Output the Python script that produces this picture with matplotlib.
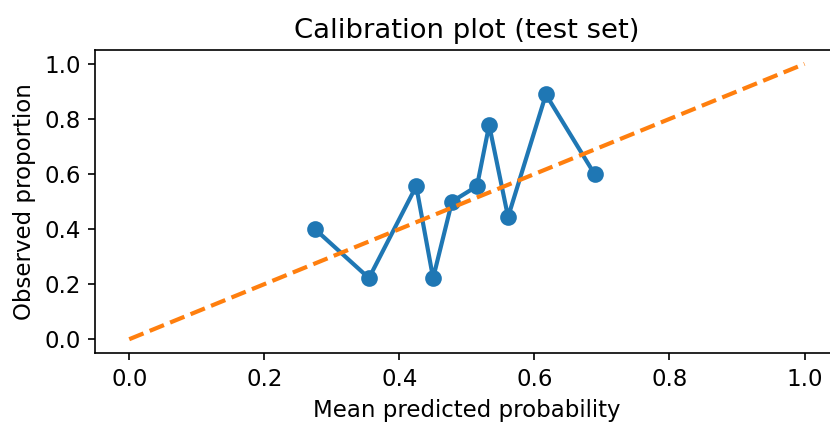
import matplotlib
matplotlib.use("Agg")
import matplotlib.pyplot as plt

# binned calibration points
mean_pred = [0.275, 0.355, 0.425, 0.450, 0.478, 0.515, 0.533, 0.561, 0.617, 0.689]
observed = [0.400, 0.222, 0.556, 0.222, 0.500, 0.556, 0.778, 0.444, 0.889, 0.600]
diag = [0.0, 1.0]

dpi = 150
fig = plt.figure(figsize=(830 / dpi, 423 / dpi), dpi=dpi)
ax = fig.add_axes([0.115, 0.1655, 0.895, 0.716])

ax.plot(mean_pred, observed, "o-", color="#1f77b4", lw=2, markersize=7)
ax.plot(diag, diag, "--", color="#ff7f0e", lw=2)

ax.set_xlim(-0.05, 1.05)
ax.set_ylim(-0.05, 1.05)
ax.set_xticks([0.0, 0.2, 0.4, 0.6, 0.8, 1.0])
ax.set_yticks([0.0, 0.2, 0.4, 0.6, 0.8, 1.0])
ax.tick_params(labelsize=11)

ax.set_xlabel("Mean predicted probability", fontsize=11)
ax.set_ylabel("Observed proportion", fontsize=11)
ax.set_title("Calibration plot (test set)", fontsize=13.2)

fig.savefig("out.png", dpi=dpi)
